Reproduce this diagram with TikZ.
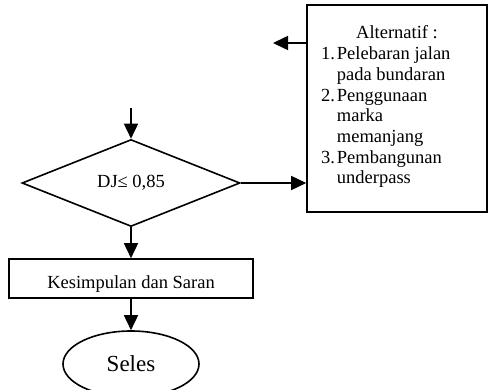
\documentclass[tikz,border=0pt]{standalone}
\usepackage{fontspec}
\setmainfont{Liberation Serif}
\usetikzlibrary{arrows.meta,shapes.geometric}

\begin{document}
\begin{tikzpicture}[>={Triangle[length=15pt,width=14pt]},line width=1.6pt,x=1pt,y=1pt,
	font=\fontsize{18.5}{21}\selectfont,
	keputusan/.style={draw,diamond,minimum width=218pt,minimum height=87pt,inner sep=0pt},
	proses/.style={draw,rectangle,minimum width=244pt,inner sep=0pt,text height=29.5pt,text depth=9.5pt},
	terminal/.style={draw,ellipse,minimum width=136pt,minimum height=66pt,inner sep=0pt,font=\fontsize{23}{26}\selectfont},
	catatan/.style={draw,rectangle,minimum width=180pt,inner sep=0pt,text height=34pt,text depth=173pt,font=\fontsize{18.5}{20.7}\selectfont}]

\useasboundingbox (0,0) rectangle (489,389);

\node[keputusan]   (dj)  at (131,206)      				{DJ≤ 0,85};
\node[proses,node distance=95.5pt]   (ks)[below of=dj]      				{Kesimpulan dan Saran};
\node[terminal,node distance=85.5pt]   (sl)[below of=ks]      				{Seles};
\node[catatan]   (alt)  at (397,280.5)      				{\begin{tabular}[t]{@{}r@{\hspace{2pt}}p{136pt}@{}}
	\multicolumn{2}{@{}c@{}}{Alternatif :}\\
	1. & Pelebaran jalan\\
	   & pada bundaran\\
	2. & Penggunaan\\
	   & marka\\
	   & memanjang\\
	3. & Pembangunan\\
	   & underpass
	\end{tabular}};

\coordinate (awal)  at (131,281);
\coordinate (balik) at (273,346);

	\path[->] (awal)  edge	  	(dj)
						(dj)  edge	  	(ks)
									edge	  	(dj.east -| alt.west)
						(ks)  edge	  	(sl)
						(alt.west |- balik)  edge	  	(balik);

	\end{tikzpicture}
\end{document}
